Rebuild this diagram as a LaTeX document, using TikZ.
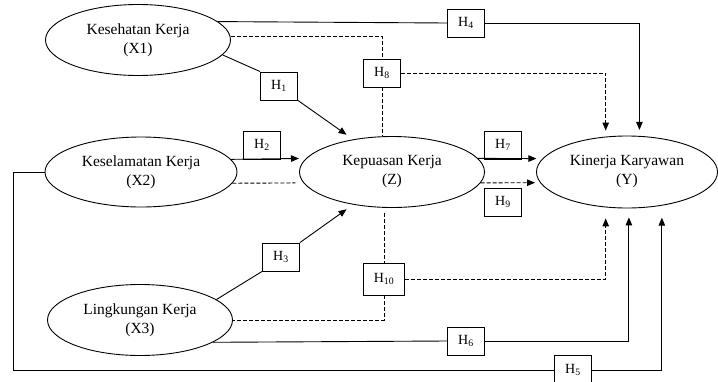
\documentclass[tikz,border=0pt]{standalone}
\usepackage{fontspec}
\setmainfont{Liberation Serif}
\usetikzlibrary{shapes.geometric,arrows.meta}

\begin{document}
\begin{tikzpicture}[x=1pt,y=-1pt,line width=0.9pt,
    var/.style={draw, ellipse, inner sep=0pt, align=center, font=\fontsize{15.5}{19}\selectfont},
    hyp/.style={draw, minimum width=37pt, minimum height=28pt, inner sep=0pt, font=\fontsize{14}{16}\selectfont},
    arr/.style={-{Triangle[length=8pt,width=6.5pt]}},
    dline/.style={dash pattern=on 4pt off 2pt}]
    \useasboundingbox (0,0) rectangle (718,381);
    \clip (0,0) rectangle (718,381);

    % Variables
    \node[var, minimum width=185pt, minimum height=71pt] (x1) at (138,40) {Kesehatan Kerja\\(X1)};
    \node[var, minimum width=192pt, minimum height=70pt] (x2) at (141,172) {Keselamatan Kerja\\(X2)};
    \node[var, minimum width=185pt, minimum height=71pt] (x3) at (140,320) {Lingkungan Kerja\\(X3)};
    \node[var, minimum width=185pt, minimum height=71pt] (z) at (392,172) {Kepuasan Kerja\\(Z)};
    \node[var, minimum width=181pt, minimum height=72pt] (y) at (627,172) {Kinerja Karyawan\\(Y)};

    % Hypotheses
    \node[hyp] (h1) at (279,86) {H\textsubscript{1}};
    \node[hyp] (h2) at (262,145) {H\textsubscript{2}};
    \node[hyp] (h3) at (281,257) {H\textsubscript{3}};
    \node[hyp] (h4) at (466,23) {H\textsubscript{4}};
    \node[hyp, minimum height=30pt] (h5) at (573,370) {H\textsubscript{5}};
    \node[hyp] (h6) at (466,341) {H\textsubscript{6}};
    \node[hyp] (h7) at (503,145) {H\textsubscript{7}};
    \node[hyp] (h8) at (382,73) {H\textsubscript{8}};
    \node[hyp] (h9) at (503,202) {H\textsubscript{9}};
    \node[hyp, minimum width=41pt, minimum height=32pt] (h10) at (384,279) {H\textsubscript{10}};
    \coordinate (corner) at (13,370);

    % Paths to Z
    \draw (x1.-10) -- (h1.north west);
    \draw[arr, shorten >=8pt] (h1.south east) -- (z.140);
    \draw[arr, shorten >=7pt] (x2.8) -- (z.171);
    \draw (x3.15) -- (h3.south west);
    \draw[arr, shorten >=8pt] (h3.north east) -- (z.220);

    % Direct paths to Y
    \draw (x1.13) -- (h4.west);
    \draw[arr, shorten >=6pt] (h4.east) -| (y.71);
    \draw (x2.west) -| (corner) -- (h5.west);
    \draw[arr, shorten >=12pt] (h5.east) -| (y.316);
    \draw (x3.-17) -- (h6.west);
    \draw[arr, shorten >=9pt] (h6.east) -| (y.273);
    \draw[arr, shorten >=6pt] (z.9) -- (y.171);

    % Mediated paths (dashed)
    \draw[dline] (x1.2) -| (h8.north);
    \draw[dline] (h8.south) -- (h8.south |- z.north);
    \draw[dline, arr, shorten >=6pt] (h8.east) -| (y.121);
    \draw[dline, shorten >=8pt] (x2.-7) -- (z.187);
    \draw[dline, arr, shorten >=5pt] (z.-7) -- (y.187);
    \draw[dline, shorten <=5pt] (h10.north |- z.south) -- (h10.north);
    \draw[dline, arr, shorten >=11pt] (h10.east) -| (y.239);
    \draw[dline] (h10.south) |- (x3.east);
\end{tikzpicture}
\end{document}
